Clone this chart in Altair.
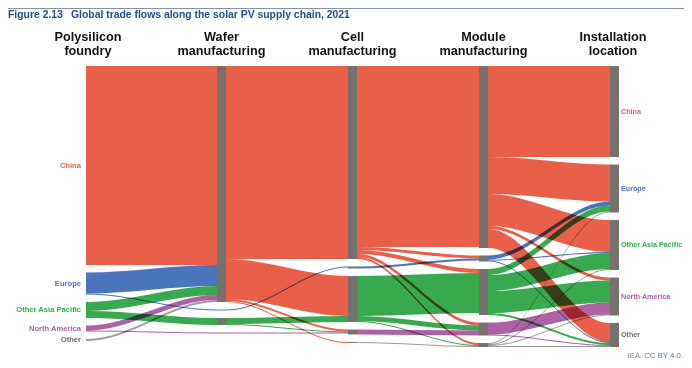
import altair as alt
import pandas as pd

# ---------------- data ----------------
regions = ["China", "Europe", "Other Asia Pacific", "North America", "Other"]
link_colors = ["#E9604A", "#4B74BC", "#38A94E", "#AD62A6", "#9B9B9B"]
label_colors = ["#E9604A", "#4B74BC", "#38A94E", "#AD62A6", "#6E6E6E"]
stage_line1 = ["Polysilicon", "Wafer", "Cell", "Module", "Installation"]
stage_line2 = ["foundry", "manufacturing", "manufacturing", "manufacturing", "location"]

# flows between consecutive stages: (source region index, target region index, value)
poly_to_wafer = [(0, 0, 199), (1, 0, 21), (1, 1, 1), (2, 0, 9), (2, 2, 7),
                 (3, 0, 5), (3, 3, 1), (4, 0, 2)]
wafer_to_cell = [(0, 0, 193), (0, 2, 40), (0, 3, 2), (0, 4, 1), (1, 1, 1),
                 (2, 2, 6), (2, 3, 1), (3, 3, 1)]
cell_to_module = [(0, 0, 181), (0, 1, 3), (0, 2, 4), (0, 3, 3), (0, 4, 2), (1, 1, 2),
                  (2, 2, 40), (2, 3, 5), (2, 4, 1), (3, 3, 5), (4, 4, 1)]
module_to_install = [(0, 0, 91), (0, 1, 37), (0, 2, 32), (0, 3, 3), (0, 4, 19),
                     (1, 1, 4), (1, 2, 1), (1, 4, 1),
                     (2, 1, 6), (2, 2, 16), (2, 3, 22), (2, 4, 2),
                     (3, 3, 12), (3, 4, 1),
                     (4, 1, 1), (4, 2, 1), (4, 3, 1), (4, 4, 1)]
flows = [poly_to_wafer, wafer_to_cell, cell_to_module, module_to_install]

# ---------------- layout (page pixel space) ----------------
W, H = 676, 352
col_x = [86, 217, 348, 479, 610]
bar_w = 9
node_top = 66
node_gap = 7.5
ncol, nreg = 5, 5

inflow = [[0.0] * nreg for _ in range(ncol)]
outflow = [[0.0] * nreg for _ in range(ncol)]
for c, fl in enumerate(flows):
    for s, t, v in fl:
        outflow[c][s] += v
        inflow[c + 1][t] += v
size = [[max(inflow[c][i], outflow[c][i]) for i in range(nreg)] for c in range(ncol)]
node_y = [[None] * nreg for _ in range(ncol)]
for c in range(ncol):
    y = node_top
    for i in range(nreg):
        if size[c][i] > 0:
            node_y[c][i] = y
            y += size[c][i] + node_gap

link_rows = []
for c, fl in enumerate(flows):
    xs = col_x[c] + (bar_w if c > 0 else 0)
    xt = col_x[c + 1]
    src_off, tgt_off = {}, {}
    for s in range(nreg):
        off = node_y[c][s]
        for f in sorted([f for f in fl if f[0] == s], key=lambda f: f[1]):
            src_off[(f[0], f[1])] = off
            off += f[2]
    for t in range(nreg):
        off = node_y[c + 1][t]
        for f in sorted([f for f in fl if f[1] == t], key=lambda f: f[0]):
            tgt_off[(f[0], f[1])] = off
            off += f[2]
    for s, t, v in fl:
        y0, y1 = src_off[(s, t)], tgt_off[(s, t)]
        lid = f"{c}-{s}-{t}"
        for x, yy in [(xs, y0), (xs + 1, y0), (xt - 1, y1), (xt, y1)]:
            link_rows.append(dict(link=lid, x=x, y=yy, y2=yy + v, color=link_colors[s]))
links_df = pd.DataFrame(link_rows)

node_rows = []
for c in range(1, ncol):
    for i in range(nreg):
        if node_y[c][i] is not None:
            node_rows.append(dict(x=col_x[c], x2=col_x[c] + bar_w,
                                  y=node_y[c][i], y2=node_y[c][i] + size[c][i]))
nodes_df = pd.DataFrame(node_rows)

left_labels = pd.DataFrame([dict(x=81, y=node_y[0][i] + size[0][i] / 2, text=regions[i],
                                 color=label_colors[i]) for i in range(nreg)])
right_labels = pd.DataFrame([dict(x=621, y=node_y[4][i] + size[4][i] / 2, text=regions[i],
                                  color=label_colors[i]) for i in range(nreg)])
header_x = [88, 221.5, 352.5, 483.5, 613]
headers = pd.DataFrame(
    [dict(x=header_x[c], y=41, text=stage_line1[c]) for c in range(ncol)] +
    [dict(x=header_x[c], y=55, text=stage_line2[c]) for c in range(ncol)])

xs_ = alt.Scale(domain=[8, 8 + W], nice=False, zero=False)
ys_ = alt.Scale(domain=[8, 8 + H], reverse=True, nice=False, zero=False)
FONT = "Liberation Sans"

links = alt.Chart(links_df).mark_area(interpolate="monotone", blend="multiply").encode(
    x=alt.X("x:Q", scale=xs_, axis=None),
    y=alt.Y("y:Q", scale=ys_, axis=None),
    y2="y2:Q",
    detail="link:N",
    color=alt.Color("color:N", scale=None),
)

bars = alt.Chart(nodes_df).mark_rect(color="#76716D").encode(
    x=alt.X("x:Q", scale=xs_, axis=None), x2="x2:Q",
    y=alt.Y("y:Q", scale=ys_, axis=None), y2="y2:Q",
)

lab_l = alt.Chart(left_labels).mark_text(align="right", baseline="middle", fontSize=7.6,
                                         fontWeight="bold", font=FONT).encode(
    x=alt.X("x:Q", scale=xs_, axis=None), y=alt.Y("y:Q", scale=ys_, axis=None),
    text="text:N", color=alt.Color("color:N", scale=None))
lab_r = alt.Chart(right_labels).mark_text(align="left", baseline="middle", fontSize=7.2,
                                          fontWeight="bold", font=FONT).encode(
    x=alt.X("x:Q", scale=xs_, axis=None), y=alt.Y("y:Q", scale=ys_, axis=None),
    text="text:N", color=alt.Color("color:N", scale=None))
head = alt.Chart(headers).mark_text(align="center", baseline="alphabetic", fontSize=12.7,
                                    fontWeight="bold", font=FONT, color="#111111").encode(
    x=alt.X("x:Q", scale=xs_, axis=None), y=alt.Y("y:Q", scale=ys_, axis=None), text="text:N")

top_rule = alt.Chart(pd.DataFrame({"a": [0]})).mark_rule(color="#8293AB", strokeWidth=1).encode(
    x=alt.value(0), x2=alt.value(W), y=alt.value(0.5))
title1 = alt.Chart(pd.DataFrame({"t": ["Figure 2.13"]})).mark_text(
    align="left", baseline="alphabetic", fontSize=10.4, fontWeight="bold", font=FONT,
    color="#1F4E8C").encode(x=alt.value(0), y=alt.value(10), text="t:N")
title2 = alt.Chart(pd.DataFrame({"t": ["Global trade flows along the solar PV supply chain, 2021"]})).mark_text(
    align="left", baseline="alphabetic", fontSize=10.4, fontWeight="bold", font=FONT,
    color="#1F4E8C").encode(x=alt.value(63), y=alt.value(10), text="t:N")
foot1 = alt.Chart(pd.DataFrame({"t": ["CC BY 4.0."]})).mark_text(
    align="right", baseline="alphabetic", fontSize=7.8, font=FONT, color="#4A78B8").encode(
    x=alt.value(W - 1), y=alt.value(H - 2), text="t:N")
foot2 = alt.Chart(pd.DataFrame({"t": ["IEA."]})).mark_text(
    align="right", baseline="alphabetic", fontSize=7.8, font=FONT, color="#8A8A8A").encode(
    x=alt.value(W - 42), y=alt.value(H - 2), text="t:N")

chart = alt.layer(links, bars, lab_l, lab_r, head, top_rule, title1, title2, foot1, foot2).properties(
    width=W, height=H, autosize=alt.AutoSizeParams(type="none"), padding=0,
    background="white"
).configure_view(stroke=None)

chart.save("out.html", embed_options={"renderer": "svg", "actions": False})
